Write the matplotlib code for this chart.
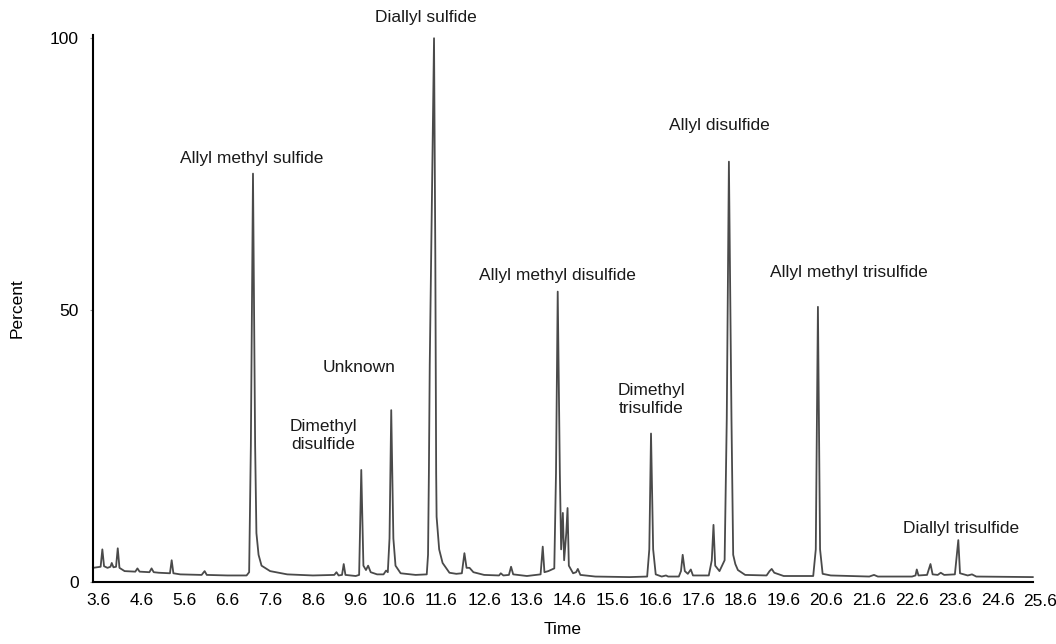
import matplotlib
matplotlib.use("Agg")
import matplotlib.pyplot as plt

# Chromatogram trace: retention time (min) and percent
time = [
    3.46, 3.55, 3.64, 3.68, 3.72, 3.80, 3.87, 3.90, 3.94, 4.00, 4.04, 4.08,
    4.20, 4.45, 4.50, 4.55, 4.78, 4.83, 4.88, 5.00, 5.26, 5.30, 5.34, 5.50,
    6.00, 6.07, 6.12, 6.60, 7.05, 7.11, 7.15, 7.20, 7.25, 7.28, 7.33, 7.40,
    7.60, 8.00, 8.60, 9.10, 9.15, 9.20, 9.28, 9.32, 9.36, 9.60, 9.68, 9.73,
    9.78, 9.84, 9.89, 9.95, 10.10, 10.25, 10.31, 10.35, 10.39, 10.43, 10.48,
    10.53, 10.65, 11.00, 11.26, 11.29, 11.31, 11.33, 11.38, 11.43, 11.46,
    11.48, 11.49, 11.55, 11.63, 11.79, 11.95, 12.08, 12.14, 12.19, 12.26,
    12.35, 12.60, 12.95, 12.99, 13.05, 13.18, 13.23, 13.28, 13.60, 13.92,
    13.97, 14.01, 14.10, 14.24, 14.28, 14.32, 14.37, 14.40, 14.44, 14.47,
    14.52, 14.55, 14.58, 14.68, 14.75, 14.79, 14.85, 15.20, 16.00, 16.41,
    16.46, 16.50, 16.55, 16.61, 16.75, 16.85, 16.90, 17.15, 17.20, 17.24,
    17.29, 17.36, 17.43, 17.48, 17.85, 17.92, 17.96, 18.00, 18.10, 18.22,
    18.27, 18.32, 18.38, 18.42, 18.47, 18.53, 18.70, 19.20, 19.27, 19.32,
    19.38, 19.60, 20.29, 20.35, 20.40, 20.45, 20.51, 20.70, 21.60, 21.71,
    21.80, 22.60, 22.68, 22.71, 22.75, 22.95, 23.03, 23.08, 23.20, 23.27,
    23.35, 23.60, 23.68, 23.72, 23.90, 24.00, 24.10, 25.42,
]
percent = [
    2.6, 2.7, 2.8, 6.0, 2.9, 2.6, 2.8, 3.5, 2.7, 2.8, 6.2, 2.6,
    2.0, 1.9, 2.5, 1.9, 1.8, 2.5, 1.8, 1.7, 1.6, 4.0, 1.6, 1.4,
    1.3, 2.0, 1.3, 1.2, 1.2, 1.8, 25.0, 75.1, 25.0, 9.0, 5.0, 3.0,
    2.0, 1.4, 1.2, 1.3, 1.8, 1.2, 1.3, 3.3, 1.3, 1.1, 1.3, 20.6,
    3.0, 2.2, 3.0, 1.8, 1.4, 1.4, 2.1, 1.8, 8.0, 31.6, 8.0,
    3.0, 1.6, 1.3, 1.4, 5.0, 20.0, 40.0, 70.0, 100.0, 60.0,
    20.0, 12.0, 6.0, 3.5, 1.7, 1.5, 1.6, 5.3, 2.6, 2.6,
    1.8, 1.3, 1.2, 1.6, 1.2, 1.3, 2.8, 1.4, 1.1, 1.4,
    6.5, 1.8, 2.0, 2.5, 20.0, 53.4, 20.0, 6.0, 12.7, 4.0,
    9.0, 13.6, 3.0, 1.6, 1.8, 2.4, 1.3, 1.0, 0.9, 1.0,
    6.0, 27.3, 6.0, 1.4, 1.0, 1.2, 1.0, 1.0, 2.0, 5.0,
    2.0, 1.5, 2.3, 1.2, 1.2, 4.0, 10.5, 3.0, 2.0, 4.0,
    30.0, 77.3, 30.0, 5.0, 3.3, 2.2, 1.3, 1.2, 2.0, 2.4,
    1.7, 1.1, 1.1, 6.0, 50.6, 6.0, 1.5, 1.2, 1.0, 1.3,
    1.0, 1.0, 1.2, 2.3, 1.2, 1.3, 3.3, 1.4, 1.3, 1.7,
    1.3, 1.4, 7.7, 1.6, 1.2, 1.4, 1.0, 0.9,
]

# Peak labels: text, time, percent of label centre
peak_names = [
    "Allyl methyl sulfide", "Dimethyl\ndisulfide", "Unknown", "Diallyl sulfide",
    "Allyl methyl disulfide", "Dimethyl\ntrisulfide", "Allyl disulfide",
    "Allyl methyl trisulfide", "Diallyl trisulfide",
]
label_time = [7.17, 8.85, 9.69, 11.25, 14.31, 16.50, 18.09, 21.13, 23.74]
label_percent = [77.9, 27.0, 39.5, 103.9, 56.4, 33.5, 84.0, 57.0, 9.9]

x_ticks = [3.6 + i for i in range(23)]
y_ticks = [0, 50, 100]

plt.rcParams['font.family'] = ['Liberation Sans', 'DejaVu Sans']

fig = plt.figure(figsize=(10.56, 6.44), dpi=100)
ax = fig.add_axes([0.088, 0.0963, 0.890, 0.8494])

ax.plot(time, percent, color='#4a4a4a', linewidth=1.3, clip_on=False)

for name, t, p in zip(peak_names, label_time, label_percent):
    ax.text(t, p, name, ha='center', va='center', fontsize=12.5,
            color='#1a1a1a', linespacing=1.25)

ax.set_xlim(3.46, 25.42)
ax.set_ylim(0, 100.6)
ax.set_xticks([t for t in x_ticks if t < 25.42])
ax.set_xticklabels([f"{t:.1f}" for t in x_ticks if t < 25.42])
# last label sits just past the end of the axis line in the original
ax.annotate(f"{x_ticks[-1]:.1f}", xy=(x_ticks[-1], 0), xycoords=('data', 'axes fraction'),
            xytext=(0, -8.3), textcoords='offset points', ha='center', va='top',
            fontsize=12.5, annotation_clip=False)
ax.set_yticks(y_ticks)

ax.tick_params(axis='x', length=0, pad=8, labelsize=12.5)
ax.tick_params(axis='y', length=2, width=0.8, color='#999999', pad=8, labelsize=12.5)

ax.spines['top'].set_visible(False)
ax.spines['right'].set_visible(False)
ax.spines['left'].set_linewidth(1.5)
ax.spines['bottom'].set_linewidth(1.5)

ax.set_xlabel("Time", fontsize=12.5, labelpad=10)
ax.set_ylabel("Percent", fontsize=12.5, labelpad=18)

fig.savefig("out.png", dpi=100)
